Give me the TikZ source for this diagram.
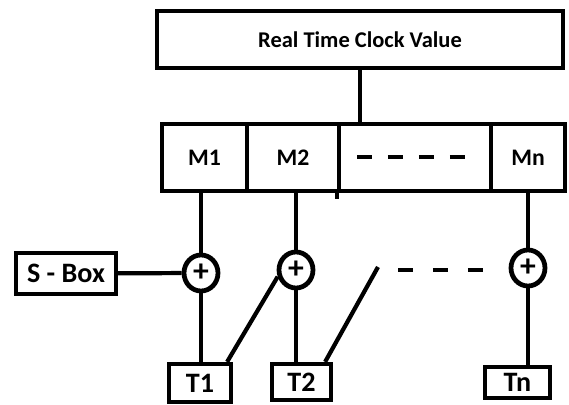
\documentclass[tikz,border=0pt]{standalone}
\usepackage{fontspec}
\setmainfont{Carlito}
\usetikzlibrary{calc,shapes.geometric}

\begin{document}
\begin{tikzpicture}[x=0.02cm, y=-0.02cm,
            every node/.style={rectangle,fill=white,line width=2.4pt,draw,inner sep=0pt,font=\bfseries},
            mcell/.style={minimum height=1.34cm, font=\bfseries\fontsize{13.5}{15}\selectfont},
            tbox/.style={font=\bfseries\fontsize{16}{18}\selectfont},
            xorop/.style={ellipse, line width=2.7pt, minimum width=0.68cm, minimum height=0.72cm, font=\bfseries\fontsize{18}{18}\selectfont},
            wire/.style={line width=2.4pt},
            gapdash/.style={line width=2.6pt, dash pattern=on 0.3cm off 0.4cm},
            celldash/.style={line width=2.8pt, dash pattern=on 0.3cm off 0.32cm}
        ]
            \fill[white] (0,0) rectangle (569,405);
            \useasboundingbox (0,0) rectangle (569,405);
            % register of the clock and the masks
            \node[minimum width=8.12cm, minimum height=1.14cm, font=\bfseries\fontsize{12.8}{14}\selectfont] (rtc) at (360,39.5) {Real Time Clock Value};
            \node[mcell, minimum width=1.7cm] (m1) at (204.5,157.5) {M1};
            \node[mcell, minimum width=1.84cm] (m2) at (293,157.5) {M2};
            \node[mcell, minimum width=3.04cm] (mdots) at (415,157.5) {};
            \node[mcell, minimum width=1.48cm] (mn) at (528,157.5) {Mn};
            % xor stage
            \node[minimum width=2.0cm, minimum height=0.82cm, font=\bfseries\fontsize{16}{18}\selectfont] (sbox) at (66,273.5) {S - Box};
            \node[xorop] (c1) at (201,273) {+};
            \node[xorop] (c2) at (296,270) {+};
            \node[xorop] (cn) at (528,268) {+};
            \node[tbox, minimum width=1.24cm, minimum height=0.76cm] (t1) at (200,383) {T1};
            \node[tbox, minimum width=1.18cm, minimum height=0.72cm] (t2) at (301.5,382) {T2};
            \node[tbox, minimum width=1.3cm, minimum height=0.62cm] (tn) at (517.5,382.5) {Tn};
            \coordinate (gapend) at (378,267);
            \coordinate (dotsA) at (398,270);
            \coordinate (dotsB) at (485,270);
            \coordinate (cellA) at (357,157);
            \coordinate (cellB) at (466,157);
            \path[wire]
                (rtc.south) edge (rtc.south |- mdots.north)
                (c1 |- m1.south) edge (c1)
                (c2 |- m2.south) edge (c2)
                (cn |- mn.south) edge (cn)
                (mdots.south west) edge ++(0,6)
                (sbox) edge (c1)
                (c1) edge (c1 |- t1.north)
                (c2) edge (c2 |- t2.north)
                (cn) edge (cn |- tn.north)
                ([xshift=-0.12cm]t1.north east) edge (c2.200)
                ([xshift=-0.16cm]t2.north east) edge (gapend);
            \draw[gapdash] (dotsA) -- (dotsB);
            \draw[celldash] (cellA) -- (cellB);
        \end{tikzpicture}
\end{document}
